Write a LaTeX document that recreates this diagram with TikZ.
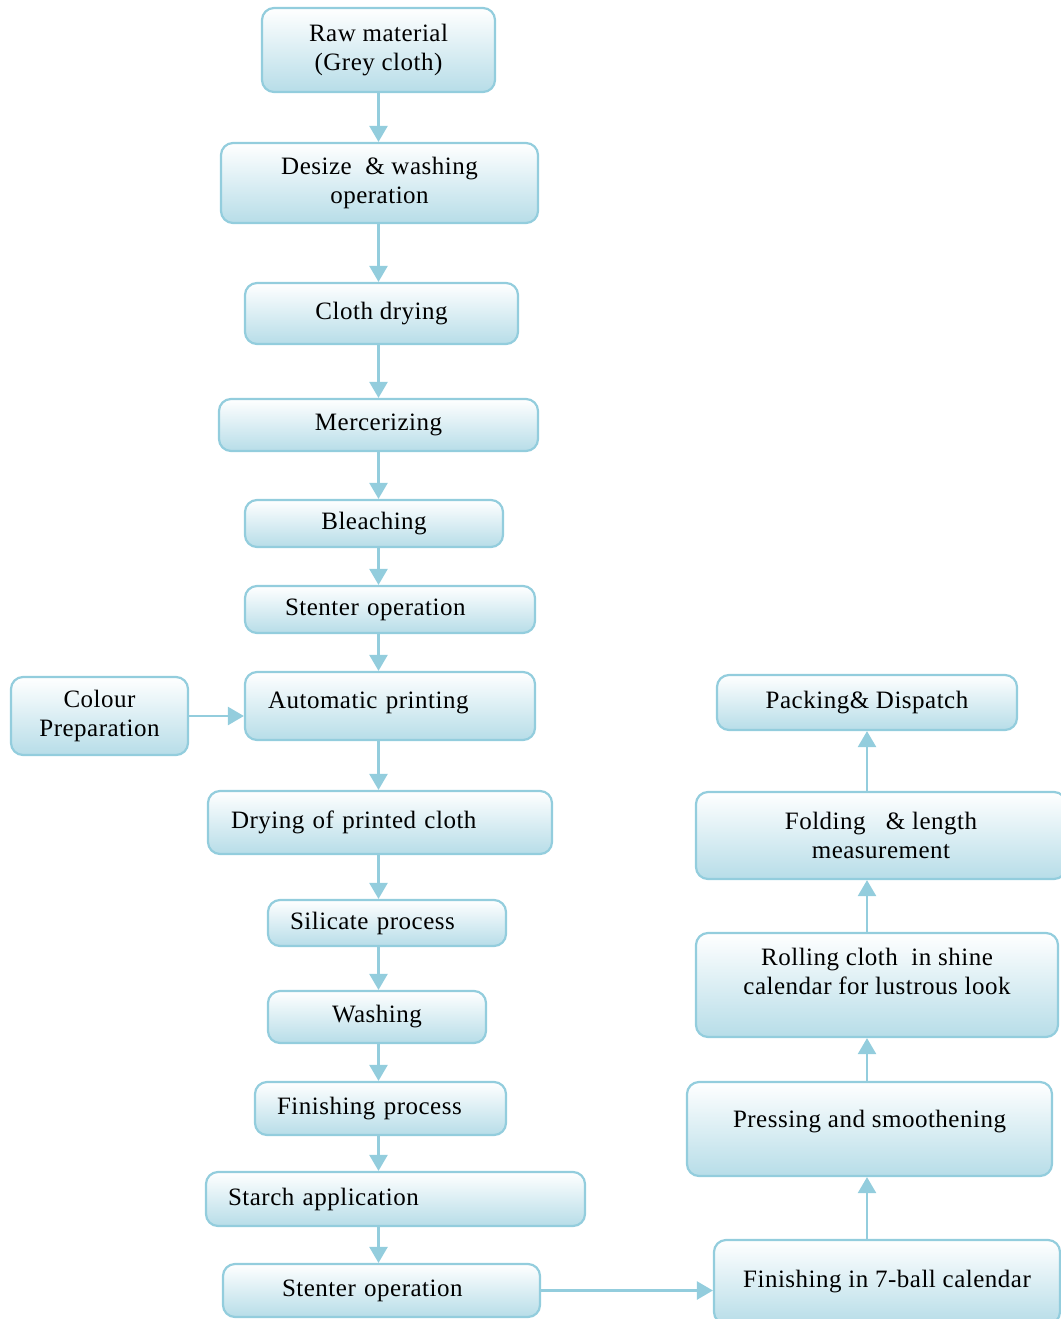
\documentclass[tikz,border=0pt]{standalone}
\usepackage{fontspec}
\setmainfont{Liberation Serif}[LetterSpace=2]
\usetikzlibrary{arrows.meta}
\definecolor{boxline}{HTML}{93CDDD}
\definecolor{boxfill}{HTML}{B7DDE8}

\begin{document}
\begin{tikzpicture}[x=1pt, y=-1pt,
  proc/.style={draw=boxline, line width=2.2pt, rounded corners=12pt,
    top color=white, bottom color=boxfill, inner sep=0pt, align=center,
    font=\fontsize{25}{29}\selectfont},
  procl/.style={proc, align=left, inner xsep=#1},
  flow/.style={draw=boxline, line width=2.5pt, -{Triangle[length=16pt,width=18pt]}}]
\useasboundingbox (0,0) rectangle (1060,1319);

% left column
\node[proc, minimum width=233, minimum height=84] at (378.5,50) (raw) {Raw material\\(Grey cloth)};
\node[proc, minimum width=317, minimum height=80] at (379.5,183) (desize) {Desize \ \& washing\\operation};
\node[proc, minimum width=273, minimum height=61] at (381.5,313.5) (dry) {Cloth drying};
\node[proc, minimum width=319, minimum height=52] at (378.5,425) (merc) {Mercerizing};
\node[proc, minimum width=258, minimum height=47] at (374,523.5) (bleach) {Bleaching};
\node[procl=40, text width=210, minimum height=47] at (390,609.5) (stent) {Stenter operation};
\node[procl=23, text width=244, minimum height=68, text depth=12pt] at (390,706) (print) {Automatic printing};
\node[proc, minimum width=177, minimum height=78] at (99.5,716) (colour) {Colour\\Preparation};
\node[procl=23, text width=298, minimum height=63] at (380,822.5) (drypr) {Drying of printed cloth};
\node[procl=22, text width=194, minimum height=46] at (387,923) (silic) {Silicate process};
\node[proc, minimum width=218, minimum height=52] at (377,1017) (wash) {Washing};
\node[procl=22, text width=207, minimum height=53] at (380.5,1108.5) (finproc) {Finishing process};
\node[procl=22, text width=335, minimum height=54] at (395.5,1199) (starch) {Starch application};
\node[procl=59, text width=199, minimum height=53] at (381.5,1290.5) (stent2) {Stenter operation};

% right column
\node[proc, minimum width=346, minimum height=84] at (887,1282) (seven) {Finishing in 7-ball calendar};
\node[proc, minimum width=365, minimum height=94, text depth=20pt] at (869.5,1129) (press) {Pressing and smoothening};
\node[proc, minimum width=362, minimum height=104, text depth=28pt] at (877,985) (roll) {Rolling cloth \ in shine\\calendar for lustrous look};
\node[proc, minimum width=370, minimum height=87] at (881,835.5) (fold) {Folding\ \ \ \& length\\measurement};
\node[proc, minimum width=300, minimum height=55] at (867,702.5) (pack) {Packing\& Dispatch};

\draw[flow] (raw.south) -- (desize.north -| raw);
\draw[flow] (desize.south -| raw) -- (dry.north -| raw);
\draw[flow] (dry.south -| raw) -- (merc.north -| raw);
\draw[flow] (merc.south -| raw) -- (bleach.north -| raw);
\draw[flow] (bleach.south -| raw) -- (stent.north -| raw);
\draw[flow] (stent.south -| raw) -- (print.north -| raw);
\draw[flow] (colour.east) -- (colour.east -| print.west);
\draw[flow] (print.south -| raw) -- (drypr.north -| raw);
\draw[flow] (drypr.south -| raw) -- (silic.north -| raw);
\draw[flow] (silic.south -| raw) -- (wash.north -| raw);
\draw[flow] (wash.south -| raw) -- (finproc.north -| raw);
\draw[flow] (finproc.south -| raw) -- (starch.north -| raw);
\draw[flow] (starch.south -| raw) -- (stent2.north -| raw);
\draw[flow] (stent2.east) -- (stent2.east -| seven.west);

\draw[flow] (seven.north -| pack) -- (press.south -| pack);
\draw[flow] (press.north -| pack) -- (roll.south -| pack);
\draw[flow] (roll.north -| pack) -- (fold.south -| pack);
\draw[flow] (fold.north -| pack) -- (pack.south);

\end{tikzpicture}
\end{document}
